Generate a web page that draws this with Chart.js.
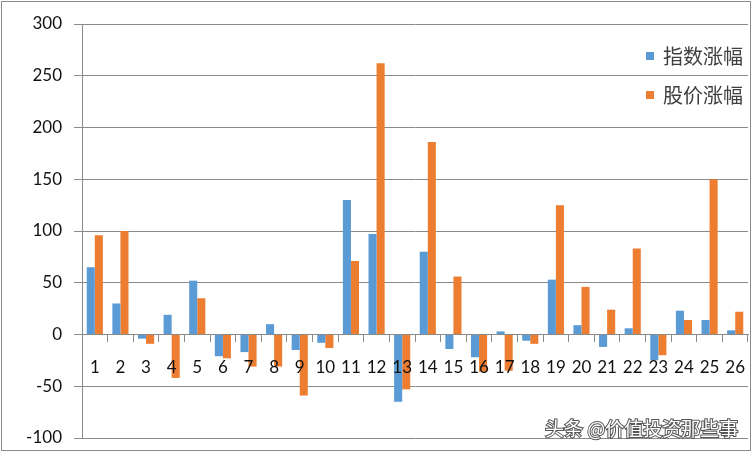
<!DOCTYPE html>
<html>
<head>
<meta charset="utf-8">
<script src="https://cdn.jsdelivr.net/npm/chart.js@4.4.1/dist/chart.umd.min.js"></script>
<style>
  html, body { margin: 0; padding: 0; background: #fff; }
  #wrap { width: 753px; height: 453px; position: relative; }
</style>
</head>
<body>
<div id="wrap"><canvas id="chart" width="753" height="453"></canvas></div>
<script>
const categories = ['1', '2', '3', '4', '5', '6', '7', '8', '9', '10', '11', '12', '13',
  '14', '15', '16', '17', '18', '19', '20', '21', '22', '23', '24', '25', '26'];
const indexChange = [65, 30, -4, 19, 52, -21, -17, 10, -15, -8, 130, 97, -65,
  80, -14, -22, 3, -6, 53, 9, -12, 6, -25, 23, 14, 4];
const priceChange = [96, 100, -9, -42, 35, -23, -31, -31, -59, -13, 71, 262, -53,
  186, 56, -36, -35, -9, 125, 46, 24, 83, -20, 14, 150, 22];
const yTicks = [-100, -50, 0, 50, 100, 150, 200, 250, 300];
const seriesNames = ['指数涨幅', '股价涨幅'];
const watermark = '头条 @价值投资那些事';

const labelFont = { family: 'Lato', size: 17 };

// 图例画在绘图区里面，右上角
const insideLegend = {
  id: 'insideLegend',
  afterDraw(chart) {
    const ctx = chart.ctx;
    ctx.save();
    ctx.font = '20px "Noto Sans CJK SC"';
    ctx.textBaseline = 'middle';
    chart.data.datasets.forEach((ds, i) => {
      const y = 56 + i * 39;
      ctx.fillStyle = ds.backgroundColor;
      ctx.fillRect(646, y - 4, 8, 8);
      ctx.fillStyle = '#404040';
      ctx.fillText(ds.label, 663, y);
    });
    // 水印
    ctx.font = '19px "Noto Sans CJK SC"';
    ctx.textBaseline = 'alphabetic';
    ctx.lineWidth = 2;
    ctx.strokeStyle = '#555';
    ctx.strokeText(watermark, 545, 436);
    ctx.fillStyle = '#fff';
    ctx.fillText(watermark, 545, 436);
    // 外框
    ctx.strokeStyle = '#8a8a8a';
    ctx.lineWidth = 1;
    ctx.strokeRect(1.5, 1.5, 749, 449);
    ctx.restore();
  }
};

new Chart(document.getElementById('chart'), {
  type: 'bar',
  data: {
    labels: categories,
    datasets: [
      { label: seriesNames[0], data: indexChange, backgroundColor: '#5B9BD5' },
      { label: seriesNames[1], data: priceChange, backgroundColor: '#ED7D31' }
    ]
  },
  options: {
    responsive: false,
    animation: false,
    layout: { padding: { left: 0, right: 5, top: 24, bottom: 15 } },
    datasets: { bar: { barPercentage: 1, categoryPercentage: 0.63 } },
    plugins: { legend: { display: false }, tooltip: { enabled: false } },
    scales: {
      x: {
        position: { y: 0 },
        afterFit: s => { s.height = 0; s.paddingLeft = 0; s.paddingRight = 0; },
        grid: { drawOnChartArea: false, drawTicks: true, tickLength: 7, color: '#8a8a8a', offset: true },
        border: { display: true, color: '#8a8a8a' },
        ticks: { font: labelFont, color: '#111', padding: 16, maxRotation: 0, autoSkip: false, z: 1 }
      },
      y: {
        min: -100,
        max: 300,
        afterFit: s => { s.width = 82; s.paddingTop = 0; s.paddingBottom = 0; },
        afterBuildTicks: s => { s.ticks = yTicks.map(v => ({ value: v })); },
        grid: { color: '#8a8a8a', tickLength: 8 },
        border: { display: true, color: '#8a8a8a' },
        ticks: { font: labelFont, color: '#111', padding: 12 }
      }
    }
  },
  plugins: [insideLegend]
});
</script>
</body>
</html>
